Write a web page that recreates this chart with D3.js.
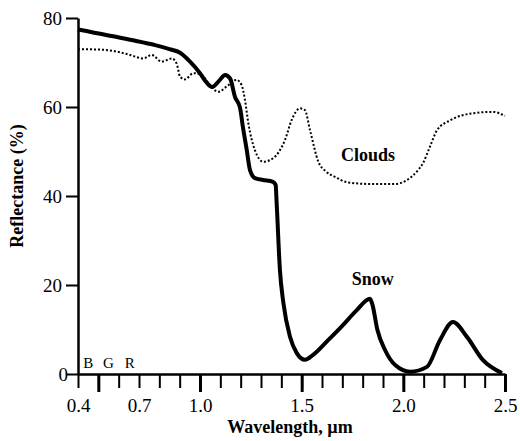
<!DOCTYPE html>
<html>
<head>
<meta charset="utf-8">
<script src="https://cdn.jsdelivr.net/npm/d3@7"></script>
<style>
  body { margin: 0; background: #fff; }
  svg { display: block; }
  svg text { font-family: 'Liberation Serif', serif; }
</style>
</head>
<body>
<div id="chart"></div>
<script>
// Spectral reflectance of snow and clouds.
// Each pair is [wavelength in um, reflectance in %].

var snow = [
  [0.40, 77.4], [0.656, 75.1], [0.78, 73.9], [0.85, 73.0], [0.902, 72.2],
  [0.951, 70.2], [1.0, 67.6], [1.034, 65.4], [1.059, 64.5], [1.098, 66.1],
  [1.123, 67.2], [1.148, 66.4], [1.172, 62.3], [1.197, 59.8], [1.211, 55.5],
  [1.230, 50.3], [1.246, 45.8], [1.27, 44.0], [1.31, 43.6], [1.359, 43.2],
  [1.372, 42.5], [1.377, 38.4], [1.393, 23.4], [1.41, 16.0], [1.443, 8.3],
  [1.476, 4.7], [1.516, 3.2], [1.556, 4.3], [1.63, 7.6], [1.703, 11.0],
  [1.77, 14.3], [1.836, 16.9], [1.848, 15.6], [1.872, 10.0], [1.91, 5.4],
  [1.96, 2.0], [2.033, 0.5], [2.116, 1.6], [2.18, 7.6], [2.244, 11.7],
  [2.312, 8.4], [2.392, 3.1], [2.485, 0.2]
]

var clouds = [
  [0.40, 73.0], [0.508, 72.9], [0.607, 72.3], [0.656, 71.7], [0.721, 70.9],
  [0.762, 71.7], [0.812, 70.2], [0.861, 70.9], [0.885, 69.8], [0.902, 66.8],
  [0.926, 66.2], [0.967, 67.6], [1.008, 67.2], [1.049, 64.9], [1.09, 63.4],
  [1.131, 64.6], [1.18, 66.1], [1.205, 64.9], [1.221, 61.6], [1.238, 56.3],
  [1.27, 50.3], [1.311, 47.7], [1.36, 48.5], [1.418, 52.6], [1.451, 57.1],
  [1.492, 59.7], [1.516, 59.3], [1.541, 54.8], [1.582, 47.7], [1.62, 45.5],
  [1.664, 44.3], [1.723, 43.1], [1.836, 42.7], [1.959, 42.7], [2.018, 43.6],
  [2.072, 45.8], [2.097, 47.4], [2.131, 51.1], [2.166, 54.8], [2.23, 57.0],
  [2.343, 58.6], [2.441, 58.9], [2.50, 58.0]
]

var xLabelValues = [0.4, 0.7, 1.0, 1.5, 2.0, 2.5]
var xMajorTicks = [0.5, 1.0, 1.5, 2.0, 2.5]
var xMinorTicks = d3.range(4, 26).map(function(d) { return d / 10 })
var yTickValues = [0, 20, 40, 60, 80]

var curveLabels = [
  { text: 'Clouds', wl: 1.826, r: 47.9 },
  { text: 'Snow', wl: 1.85, r: 20.0 }
]
var bandLabels = [
  { text: 'B', wl: 0.45 },
  { text: 'G', wl: 0.55 },
  { text: 'R', wl: 0.655 }
]

var width = 520
  , height = 441
  , svg = d3.select('#chart').append('svg').attr('width', width).attr('height', height)
  , x = d3.scaleLinear().domain([0.4, 2.5]).range([78, 505])
  , y = d3.scaleLinear().domain([0, 80]).range([374, 18])

// y axis
var yAxis = svg.append('g')
  .attr('transform', 'translate(' + x(0.4) + ',0)')
  .call(d3.axisLeft(y).tickValues(yTickValues).tickSize(12).tickSizeOuter(0).tickPadding(4))
yAxis.select('.domain').attr('stroke-width', 2.5)
yAxis.selectAll('.tick line').attr('stroke-width', 2)
yAxis.selectAll('.tick text').attr('font-size', 19)
// the zero label sits closer to the axis in the original
yAxis.selectAll('.tick').filter(function(d) { return d === 0 }).select('text').attr('dx', 6)

// x axis: minor ticks, major ticks, then labels
var xMinor = svg.append('g')
  .attr('transform', 'translate(0,' + y(0) + ')')
  .call(d3.axisBottom(x).tickValues(xMinorTicks).tickSize(14).tickSizeOuter(0).tickFormat(''))
xMinor.select('.domain').attr('stroke-width', 2.5)
xMinor.selectAll('.tick line').attr('stroke-width', 2)

var xMajor = svg.append('g')
  .attr('transform', 'translate(0,' + y(0) + ')')
  .call(d3.axisBottom(x).tickValues(xMajorTicks).tickSize(18).tickFormat(''))
xMajor.select('.domain').remove()
xMajor.selectAll('.tick line').attr('stroke-width', 3)

var xText = svg.append('g')
  .attr('transform', 'translate(0,' + y(0) + ')')
  .call(d3.axisBottom(x).tickValues(xLabelValues).tickSize(0).tickPadding(25)
    .tickFormat(d3.format('.1f')))
xText.select('.domain').remove()
xText.selectAll('.tick text').attr('font-size', 19)

// axis titles
svg.append('text')
  .attr('x', 290).attr('y', 433)
  .attr('text-anchor', 'middle')
  .attr('font-size', 18).attr('font-weight', 'bold')
  .text('Wavelength, \u00b5m')

svg.append('text')
  .attr('transform', 'translate(23,' + 186 + ') rotate(-90)')
  .attr('text-anchor', 'middle')
  .attr('font-size', 18).attr('font-weight', 'bold')
  .text('Reflectance (%)')

// curves
var line = d3.line()
  .x(function(d) { return x(d[0]) })
  .y(function(d) { return y(d[1]) })
  .curve(d3.curveMonotoneX)

svg.append('path')
  .datum(clouds)
  .attr('d', line)
  .attr('fill', 'none')
  .attr('stroke', '#000')
  .attr('stroke-width', 2)
  .attr('stroke-dasharray', '2,2')

svg.append('path')
  .datum(snow)
  .attr('d', line)
  .attr('fill', 'none')
  .attr('stroke', '#000')
  .attr('stroke-width', 4)
  .attr('stroke-linejoin', 'round')

// curve labels
svg.selectAll('text.curve-label').data(curveLabels).enter().append('text')
  .attr('class', 'curve-label')
  .attr('x', function(d) { return x(d.wl) })
  .attr('y', function(d) { return y(d.r) })
  .attr('text-anchor', 'middle')
  .attr('font-size', 18).attr('font-weight', 'bold')
  .text(function(d) { return d.text })

// visible band markers
svg.selectAll('text.band').data(bandLabels).enter().append('text')
  .attr('class', 'band')
  .attr('x', function(d) { return x(d.wl) })
  .attr('y', y(0) - 6)
  .attr('text-anchor', 'middle')
  .attr('font-size', 15)
  .text(function(d) { return d.text })
</script>
</body>
</html>
